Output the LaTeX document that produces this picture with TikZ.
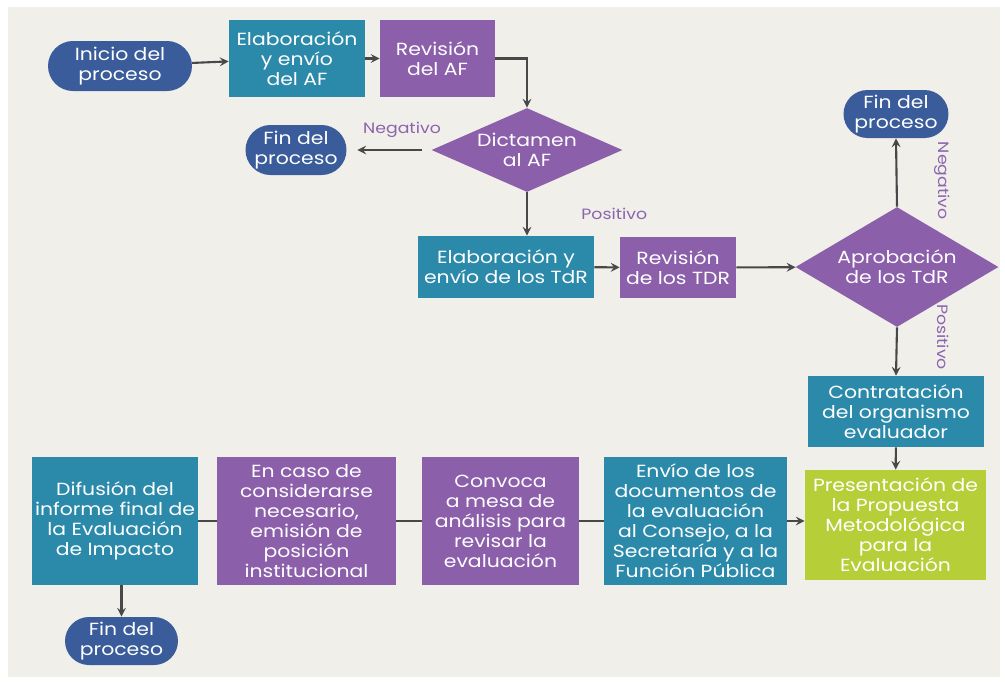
\documentclass[tikz,border=0pt]{standalone}
\usepackage{fontspec}
\setmainfont{Poppins}[FakeStretch=1.16]
\usepackage{tikz}
\usetikzlibrary{shapes.geometric, shapes.misc, arrows}
\usepackage{xcolor}
\definecolor{finblue}{RGB}{58,92,155}
\definecolor{tealbox}{RGB}{43,138,170}
\definecolor{purplebox}{RGB}{140,95,170}
\definecolor{limebox}{RGB}{182,206,56}
\definecolor{labpurple}{RGB}{140,100,175}
\definecolor{linegray}{RGB}{72,72,72}
\definecolor{panel}{RGB}{241,239,233}
\tikzstyle{arrow} = [line width=1.2pt,->,>=stealth,draw=linegray]
\tikzstyle{link} = [line width=1.2pt,draw=linegray]

\begin{document}
\begin{tikzpicture}[x=0.02cm, y=-0.02cm,
		finproc/.style={
			rounded rectangle,
			fill=finblue,
			text=white,
			align=center,
			inner sep=0pt,
			font=\fontsize{10}{11.4}\selectfont},
		elab/.style={
			rectangle,
			fill=tealbox,
			text=white,
			align=center,
			inner sep=0pt,
			font=\fontsize{10}{11.4}\selectfont},
		revis/.style={
			elab,
			fill=purplebox},
		dictam/.style={
			diamond,
			fill=purplebox,
			text=white,
			align=center,
			inner sep=0pt,
			font=\fontsize{10}{11.4}\selectfont},
		respuesta/.style={
			text=labpurple,
			font=\fontsize{8.5}{10}\selectfont}]
		\useasboundingbox (0,0) rectangle (1005,681);
		\fill [white] (0,0) rectangle (1005,681);
		\fill [panel] (8,7) rectangle (1000,677);

		% fila superior
		\node (inicio) [finproc, minimum width=2.88cm, minimum height=1cm] at (120,66) {Inicio del\\proceso};
		\node (elabaf) [elab, minimum width=2.72cm, minimum height=1.54cm] at (297,58.5) {Elaboración\\y envío\\del AF};
		\node (revaf) [revis, minimum width=2.3cm, minimum height=1.54cm] at (437.5,58.5) {Revisión\\del AF};
		\node (dictamen) [dictam, aspect=2.27, minimum width=3.82cm, minimum height=1.68cm] at (527,150) {Dictamen\\al AF};
		\node (finuno) [finproc, minimum width=2.02cm, minimum height=1cm] at (296,150) {Fin del\\proceso};

		% fila de los TdR
		\node (elabtdr) [elab, minimum width=3.52cm, minimum height=1.24cm] at (506,267) {Elaboración y\\envío de los TdR};
		\node (revtdr) [revis, minimum width=2.32cm, minimum height=1.22cm] at (678,267.5) {Revisión\\de los TDR};
		\node (aprob) [dictam, aspect=1.7, minimum width=4.06cm, minimum height=2.4cm] at (897,267) {Aprobación\\de los TdR};
		\node (findos) [finproc, minimum width=2.1cm, minimum height=0.96cm] at (896,114) {Fin del\\proceso};

		% columna derecha y fila inferior
		\node (contrat) [elab, minimum width=3.52cm, minimum height=1.42cm] at (896,411.5) {Contratación\\del organismo\\evaluador};
		\node (present) [elab, fill=limebox, minimum width=3.62cm, minimum height=2.2cm] at (895.5,525) {Presentación de\\la Propuesta\\Metodológica\\para la\\Evaluación};
		\node (envio) [elab, minimum width=3.66cm, minimum height=2.56cm] at (695.5,521) {Envío de los\\documentos de\\la evaluación\\al Consejo, a la\\Secretaría y a la\\Función Pública};
		\node (convoca) [revis, minimum width=3.14cm, minimum height=2.56cm] at (500.5,521) {Convoca\\a mesa de\\análisis para\\revisar la\\evaluación};
		\node (encaso) [revis, minimum width=3.58cm, minimum height=2.56cm] at (306.5,521) {En caso de\\considerarse\\necesario,\\emisión de\\posición\\institucional};
		\node (difusion) [elab, minimum width=3.32cm, minimum height=2.56cm] at (115,521) {Difusión del\\informe final de\\la Evaluación\\de Impacto};
		\node (fintres) [finproc, minimum width=2.26cm, minimum height=0.96cm] at (121.5,641) {Fin del\\proceso};

		% conectores
		\draw [arrow] (inicio) -- (elabaf);
		\draw [arrow] (elabaf) -- (revaf);
		\draw [arrow] (revaf.east) -| (dictamen.north);
		\draw [arrow, shorten <=5pt, shorten >=6pt] (dictamen.west) -- (finuno.east) node[midway, above=3pt, xshift=0.26cm, respuesta] {Negativo};
		\draw [arrow] (dictamen.south) -- (dictamen.south |- elabtdr.north) node[midway, right=0.95cm, respuesta] {Positivo};
		\draw [arrow] (elabtdr) -- (revtdr);
		\draw [arrow] (revtdr) -- (aprob);
		\draw [arrow] (aprob.north) -- (findos.south) node[pos=0.38, xshift=0.92cm, rotate=-90, respuesta] {Negativo};
		\draw [arrow] (aprob.south) -- (contrat.north) node[pos=0.2, xshift=0.92cm, rotate=-90, respuesta] {Positivo};
		\draw [arrow] (contrat) -- (present);
		\draw [arrow] (envio.east) -- (envio.east -| present.west);
		\draw [link] (convoca) -- (envio);
		\draw [link] (encaso) -- (convoca);
		\draw [link] (difusion) -- (encaso);
		\draw [arrow] (fintres.north |- difusion.south) -- (fintres.north);

	\end{tikzpicture}
\end{document}
